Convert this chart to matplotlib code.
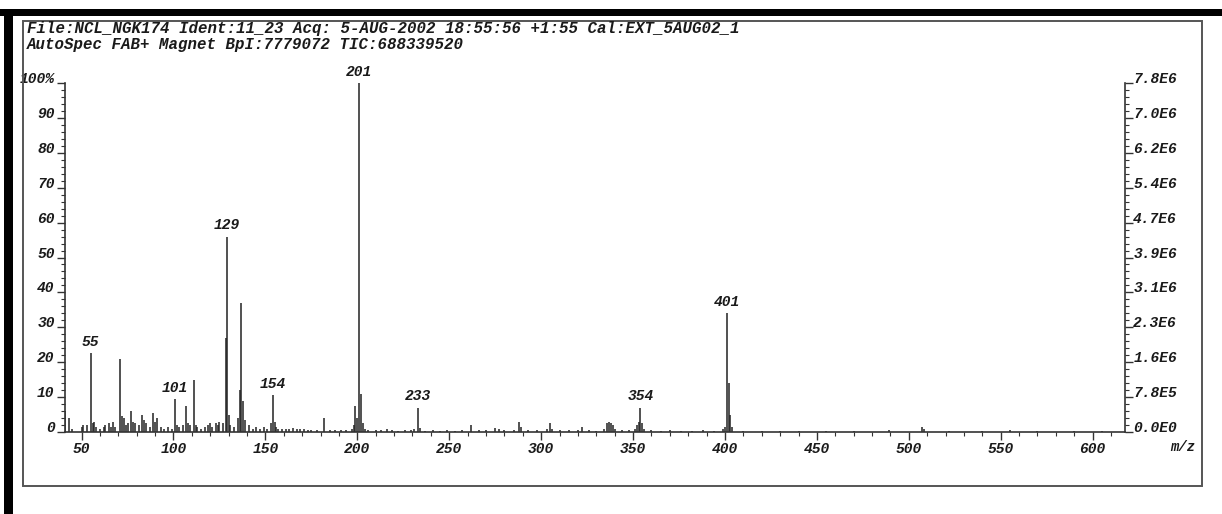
"""
FAB+ mass spectrum (AutoSpec), recreated as a stick plot.
"""

import matplotlib
matplotlib.use("Agg")
import matplotlib.pyplot as plt
from matplotlib.patches import Rectangle
from matplotlib.ticker import MultipleLocator

W, H = 1222, 514

header_1 = "File:NCL_NGK174 Ident:11_23 Acq: 5-AUG-2002 18:55:56 +1:55 Cal:EXT_5AUG02_1"
header_2 = "AutoSpec FAB+ Magnet BpI:7779072 TIC:688339520"

# m/z and relative intensity (%)
mz = [41, 43, 45, 50, 51, 53, 55, 56, 57, 58, 60, 62, 63, 65, 66, 67, 68,
      71, 72, 73, 74, 75, 77, 78, 79, 81, 83, 84, 85, 87, 89, 90, 91, 93,
      95, 97, 99, 101, 102, 103, 105, 107, 108, 109, 111, 112, 113, 115,
      117, 119, 120, 121, 123, 124, 125, 127, 128.6, 129, 130, 131, 133, 135,
      136, 137, 138, 139, 141, 143, 145, 147, 149, 151, 153, 154, 155, 156,
      157, 159, 161, 163, 165, 167, 169, 171, 173, 175, 178, 182, 185, 188,
      191, 194, 197, 198, 199, 200, 201, 202, 203, 204, 206, 210, 213, 216,
      219, 222, 226, 229, 231, 233, 234, 237, 241, 245, 249, 253, 257, 262,
      266, 270, 275, 277, 280, 285, 288, 289, 293, 298, 303, 305, 306, 310,
      315, 320, 322, 326, 330, 334, 336, 337, 338, 339, 340, 344, 348, 351,
      352, 353, 354, 355, 356, 360, 365, 370, 376, 382, 388, 394, 399, 400,
      401, 402, 403, 404, 410, 420, 430, 440, 455, 470, 489, 507, 508, 522,
      540, 555, 570, 590, 605]
intensity = [6.0, 4.0, 1.0, 1.5, 2.0, 2.0, 22.5, 2.5, 3.0, 1.5, 1.0, 1.5, 2.0,
             2.5, 1.5, 3.0, 1.5, 21.0, 4.5, 4.0, 2.0, 2.5, 6.0, 3.0, 2.5, 2.0,
             5.0, 3.5, 2.5, 1.5, 5.5, 3.0, 4.0, 1.5, 1.0, 1.5, 1.0, 9.5, 2.0,
             1.5, 2.0, 7.5, 2.5, 2.0, 15.0, 2.0, 1.5, 1.0, 1.5, 2.0, 2.5, 1.5,
             2.5, 2.0, 3.0, 2.5, 27.0, 56.0, 5.0, 2.0, 1.5, 4.0, 12.0, 37.0,
             9.0, 3.5, 2.0, 1.0, 1.5, 1.0, 1.5, 1.0, 2.5, 10.5, 3.0, 1.5, 1.0,
             0.8, 0.8, 1.0, 1.2, 1.0, 1.0, 0.8, 0.6, 0.5, 0.6, 4.0, 0.5, 0.5,
             0.6, 0.5, 0.8, 2.0, 7.5, 4.0, 100.0, 11.0, 2.5, 1.0, 0.6, 0.5,
             0.6, 0.8, 0.5, 0.4, 0.5, 0.6, 0.8, 7.0, 1.2, 0.4, 0.5, 0.4, 0.5,
             0.4, 0.6, 2.0, 0.5, 0.6, 1.2, 0.8, 0.5, 0.6, 3.0, 1.5, 0.5, 0.5,
             0.8, 2.5, 1.0, 0.5, 0.5, 0.6, 1.5, 0.5, 0.4, 1.0, 2.5, 3.0, 2.5,
             2.0, 1.0, 0.5, 0.5, 1.0, 2.0, 3.0, 7.0, 2.5, 1.0, 0.5, 0.4, 0.5,
             0.4, 0.4, 0.5, 0.4, 1.0, 1.5, 34.0, 14.0, 5.0, 1.5, 0.4, 0.3, 0.4,
             0.3, 0.4, 0.3, 0.5, 1.5, 0.8, 0.3, 0.3, 0.5, 0.3, 0.3, 0.3]

labelled_peaks = [55, 101, 129, 154, 201, 233, 354, 401]

left_ticks = [0, 10, 20, 30, 40, 50, 60, 70, 80, 90, 100]
left_labels = ["0", "10", "20", "30", "40", "50", "60", "70", "80", "90", "100%"]
right_labels = ["0.0E0", "7.8E5", "1.6E6", "2.3E6", "3.1E6", "3.9E6",
                "4.7E6", "5.4E6", "6.2E6", "7.0E6", "7.8E6"]
x_ticks = [50, 100, 150, 200, 250, 300, 350, 400, 450, 500, 550, 600]

FONT = dict(family="Liberation Mono", weight="bold", style="italic")
INK = "#1a1a1a"

fig = plt.figure(figsize=(W / 100, H / 100), dpi=100)

# scanned page frame
fig.add_artist(Rectangle((0, 1 - 16 / H), 1, 7 / H, transform=fig.transFigure,
                         fc="black", ec="none"))
fig.add_artist(Rectangle((4 / W, 0), 9 / W, 1 - 9 / H, transform=fig.transFigure,
                         fc="black", ec="none"))
fig.add_artist(Rectangle((23 / W, 1 - 486 / H), (1202 - 23) / W, (486 - 21) / H,
                         transform=fig.transFigure, fill=False, ec="#555555", lw=1.4))

fig.text(27 / W, 1 - 28 / H, header_1, fontsize=11.3, color=INK, va="center", **FONT)
fig.text(27 / W, 1 - 44.5 / H, header_2, fontsize=11.3, color=INK, va="center", **FONT)

ax = fig.add_axes([65 / W, 1 - 432 / H, (1125 - 65) / W, (432 - 83) / H])
ax.vlines(mz, 0, intensity, color="#222222", lw=1.1)

for m in labelled_peaks:
    val = intensity[mz.index(m)]
    ax.annotate(str(m), (m, val), xytext=(0, 3), textcoords="offset points",
                ha="center", va="bottom", fontsize=10.5, color=INK,
                annotation_clip=False, **FONT)

ax.set_xlim(41, 617.6)
ax.set_ylim(0, 100)
ax.spines["top"].set_visible(False)
for s in ("left", "right", "bottom"):
    ax.spines[s].set_linewidth(1.2)
    ax.spines[s].set_color("#333333")

ax.set_xticks(x_ticks)
ax.set_xticklabels([str(v) for v in x_ticks], fontsize=10.5, color=INK, **FONT)
ax.xaxis.set_minor_locator(MultipleLocator(10))
ax.set_yticks(left_ticks)
ax.set_yticklabels(left_labels, fontsize=10.5, color=INK, **FONT)
ax.yaxis.set_minor_locator(MultipleLocator(2))
ax.tick_params(which="major", direction="out", length=6, width=1.0, color="#333333", pad=1.5)
ax.tick_params(which="minor", direction="out", length=3, width=0.8, color="#333333")
for lab in ax.get_yticklabels():
    lab.set_va("baseline")

ax2 = ax.twinx()
ax2.set_ylim(0, 100)
ax2.set_yticks(left_ticks)
ax2.set_yticklabels(right_labels, fontsize=10.5, color=INK, **FONT)
ax2.yaxis.set_minor_locator(MultipleLocator(2))
ax2.tick_params(which="major", direction="out", length=6, width=1.0, color="#333333", pad=0)
ax2.tick_params(which="minor", direction="out", length=3, width=0.8, color="#333333")
for lab in ax2.get_yticklabels():
    lab.set_va("baseline")
for s in ax2.spines.values():
    s.set_visible(False)

fig.text(1183 / W, 1 - 447 / H, "m/z", fontsize=10, color=INK, ha="center", va="center", **FONT)

fig.savefig("out.png", dpi=100)
